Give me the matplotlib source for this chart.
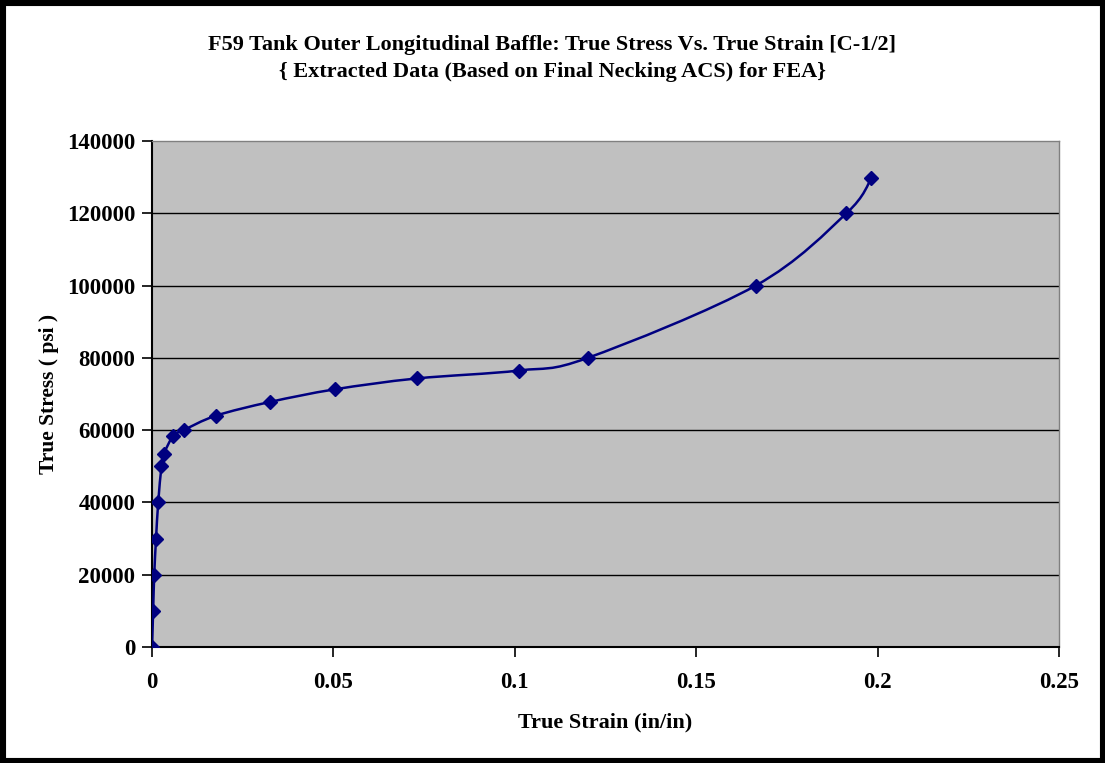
import numpy as np
import matplotlib
matplotlib.use("Agg")
import matplotlib.pyplot as plt
from matplotlib.path import Path
from matplotlib.patches import PathPatch, Rectangle

# values
strain = [0, 0.0003, 0.0006, 0.0011, 0.0017, 0.0026, 0.0033, 0.0059, 0.0087,
          0.0176, 0.0325, 0.0504, 0.0729, 0.1011, 0.1201, 0.1664, 0.1914, 0.1983]
stress = [0, 10000, 20000, 30000, 40000, 50000, 53500, 58500, 60000,
          64000, 67800, 71300, 74300, 76500, 80000, 100000, 120000, 129700]

x_ticks = [0, 0.05, 0.1, 0.15, 0.2, 0.25]
x_tick_labels = ["0", "0.05", "0.1", "0.15", "0.2", "0.25"]
y_ticks = [0, 20000, 40000, 60000, 80000, 100000, 120000, 140000]

title_1 = "F59 Tank Outer Longitudinal Baffle: True Stress Vs. True Strain [C-1/2]"
title_2 = "{ Extracted Data (Based on Final Necking ACS) for FEA}"

plt.rcParams['font.family'] = ['Liberation Serif', 'DejaVu Serif']
plt.rcParams['font.weight'] = 'bold'

fig = plt.figure(figsize=(11.05, 7.63), dpi=100)
ax = fig.add_axes([0.1376, 0.152, 0.8208, 0.6632])
ax.set_facecolor('#C0C0C0')
ax.set_xlim(0, 0.25)
ax.set_ylim(0, 140000)

for y in y_ticks[1:-1]:
    ax.axhline(y, color='black', lw=1.0, zorder=1)

# Excel-style smoothed line (bezier through the points, computed in screen space)
pts = ax.transData.transform(np.column_stack([strain, stress]))
verts = [pts[0]]
codes = [Path.MOVETO]
n = len(pts)
for i in range(n - 1):
    p0 = pts[max(i - 1, 0)]
    p1 = pts[i]
    p2 = pts[i + 1]
    p3 = pts[min(i + 2, n - 1)]
    c1 = p1 + (p2 - p0) / 6.0
    c2 = p2 - (p3 - p1) / 6.0
    verts += [c1, c2, p2]
    codes += [Path.CURVE4] * 3
verts = ax.transData.inverted().transform(np.array(verts))
ax.add_patch(PathPatch(Path(verts, codes), fill=False, edgecolor='#000080', lw=1.8, zorder=3))
ax.plot(strain, stress, linestyle='none', marker='D', markersize=7,
        color='#000080', zorder=4)

ax.set_xticks(x_ticks)
ax.set_xticklabels(x_tick_labels)
ax.set_yticks(y_ticks)
ax.tick_params(axis='both', direction='out', length=7, width=1.2, colors='black',
               labelsize=16.5)
ax.tick_params(axis='x', pad=11)
ax.tick_params(axis='y', pad=5)
for lab in ax.get_xticklabels() + ax.get_yticklabels():
    lab.set_fontweight('bold')

for side in ['top', 'right']:
    ax.spines[side].set_color('#808080')
    ax.spines[side].set_linewidth(1.0)
for side in ['left', 'bottom']:
    ax.spines[side].set_color('black')
    ax.spines[side].set_linewidth(1.5)

ax.set_xlabel("True Strain (in/in)", fontsize=16, fontweight='bold', labelpad=14)
ax.set_ylabel("True Stress ( psi )", fontsize=15.5, fontweight='bold', labelpad=6)

fig.text(0.5, 0.941, title_1, ha='center', va='center', fontsize=16, fontweight='bold')
fig.text(0.5, 0.906, title_2, ha='center', va='center', fontsize=16, fontweight='bold')

# black frame around the chart
fig.patches.append(Rectangle((0, 0), 1, 1, transform=fig.transFigure, fill=False,
                             edgecolor='black', lw=8, zorder=10))

fig.savefig('out.png', dpi=100)
